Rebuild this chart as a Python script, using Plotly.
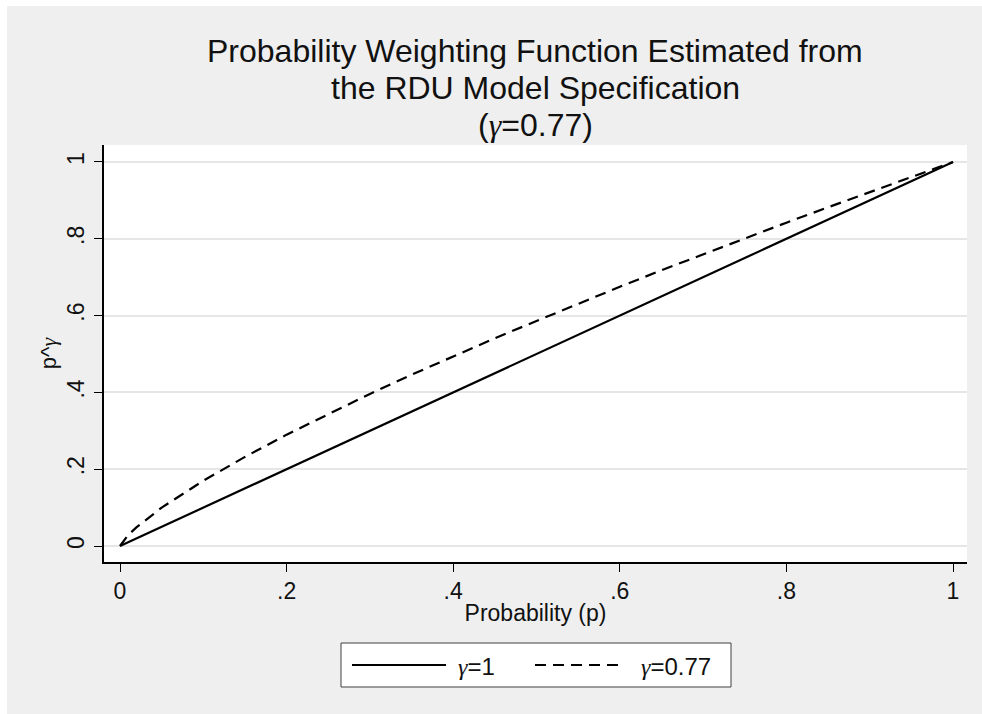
import plotly.graph_objects as go

# ---- data ----
p_vals = [0.0, 0.01, 0.02, 0.05, 0.10, 0.15, 0.20, 0.25, 0.30, 0.35, 0.40, 0.45,
          0.50, 0.55, 0.60, 0.65, 0.70, 0.75, 0.80, 0.85, 0.90, 0.95, 1.0]
w_gamma1 = [0.0, 0.01, 0.02, 0.05, 0.10, 0.15, 0.20, 0.25, 0.30, 0.35, 0.40, 0.45,
            0.50, 0.55, 0.60, 0.65, 0.70, 0.75, 0.80, 0.85, 0.90, 0.95, 1.0]
w_gamma077 = [0.0, 0.029, 0.049, 0.100, 0.170, 0.232, 0.290, 0.344, 0.396, 0.446, 0.494, 0.541,
              0.586, 0.631, 0.675, 0.718, 0.760, 0.801, 0.842, 0.882, 0.922, 0.961, 1.0]
x_tick_vals = [0, 0.2, 0.4, 0.6, 0.8, 1]
x_tick_text = ["0", ".2", ".4", ".6", ".8", "1"]
y_tick_vals = [0, 0.2, 0.4, 0.6, 0.8, 1]
y_tick_text = ["0", ".2", ".4", ".6", ".8", "1"]

G = "<span style=\"font-family:'Liberation Serif'\"><i>γ</i></span>"
series_names = [G + "=1", G + "=0.77"]
title_lines = ["Probability Weighting Function Estimated from",
               "the RDU Model Specification",
               "(" + G + "=0.77)"]

W, H = 982, 714
ML, MR, MT, MB = 104, 15, 145, 152
PW, PH = W - ML - MR, H - MT - MB
BG = "#EFEFEF"
FONT = "Liberation Sans, Arial, sans-serif"


def px_x(px):
    return (px - ML) / PW


def px_y(py):
    return (H - MB - py) / PH


fig = go.Figure()
fig.add_trace(go.Scatter(x=p_vals, y=w_gamma1, mode="lines", name=series_names[0],
                         line=dict(color="black", width=2.2), showlegend=False))
fig.add_trace(go.Scatter(x=p_vals, y=w_gamma077, mode="lines", name=series_names[1],
                         line=dict(color="black", width=2.2, dash="11px,7px"), showlegend=False))

shapes = []
# white outer border strips (left / top)
shapes.append(dict(type="rect", xref="paper", yref="paper", x0=px_x(0), x1=px_x(7), y0=px_y(H), y1=px_y(0),
                   fillcolor="white", line=dict(width=0), layer="below"))
shapes.append(dict(type="rect", xref="paper", yref="paper", x0=px_x(0), x1=px_x(W), y0=px_y(6), y1=px_y(0),
                   fillcolor="white", line=dict(width=0), layer="below"))
# legend box
shapes.append(dict(type="rect", xref="paper", yref="paper", x0=px_x(341), x1=px_x(731), y0=px_y(687), y1=px_y(643),
                   fillcolor="white", line=dict(color="#404040", width=1)))
shapes.append(dict(type="line", xref="paper", yref="paper", x0=px_x(352), x1=px_x(446), y0=px_y(665), y1=px_y(665),
                   line=dict(color="black", width=2)))
shapes.append(dict(type="line", xref="paper", yref="paper", x0=px_x(535), x1=px_x(625), y0=px_y(665), y1=px_y(665),
                   line=dict(color="black", width=2, dash="11px,7px")))

annotations = [
    dict(xref="paper", yref="paper", x=px_x(457), y=px_y(666), text=series_names[0], showarrow=False,
         xanchor="left", yanchor="middle", borderpad=0, font=dict(family=FONT, size=24, color="#111")),
    dict(xref="paper", yref="paper", x=px_x(640), y=px_y(666), text=series_names[1], showarrow=False,
         xanchor="left", yanchor="middle", borderpad=0, font=dict(family=FONT, size=24, color="#111")),
]
# title lines (tight Stata-like line spacing)
for line, cy in zip(title_lines, [51, 88, 125]):
    annotations.append(dict(xref="paper", yref="paper", x=px_x(535), y=px_y(cy), text=line,
                            showarrow=False, xanchor="center", yanchor="middle", borderpad=0,
                            font=dict(family=FONT, size=32, color="#111")))

fig.update_layout(
    width=W, height=H,
    margin=dict(l=ML, r=MR, t=MT, b=MB, pad=0),
    paper_bgcolor=BG, plot_bgcolor="white",
    font=dict(family=FONT, size=22, color="#111"),
    shapes=shapes, annotations=annotations,
    showlegend=False,
)
fig.update_xaxes(range=[(ML - 120) / 833, 1 + (967 - 953) / 833],
                 tickvals=x_tick_vals, ticktext=x_tick_text,
                 showline=True, linecolor="black", linewidth=1.5,
                 ticks="outside", ticklen=8, tickwidth=1, tickcolor="black",
                 showgrid=False, zeroline=False,
                 tickfont=dict(size=23),
                 title=dict(text="Probability (p)", standoff=2, font=dict(size=23)))
fig.update_yaxes(range=[-(562 - 546) / 384.5, 1 + (162 - 145) / 384.5],
                 tickvals=y_tick_vals, ticktext=y_tick_text, tickangle=-90,
                 showline=True, linecolor="black", linewidth=1.5,
                 ticks="outside", ticklen=8, tickwidth=1, tickcolor="black",
                 showgrid=True, gridcolor="#E6E6E6", gridwidth=2, zeroline=False,
                 tickfont=dict(size=23), ticklabelstandoff=1,
                 title=dict(text="p^" + G, standoff=0, font=dict(size=22)))

fig.write_html("out.html")
